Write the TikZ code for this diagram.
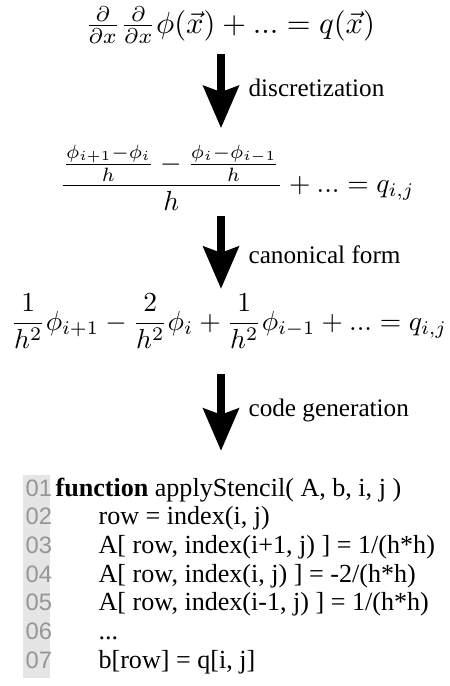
\documentclass[tikz,border=0pt]{standalone}
\usepackage{fontspec}
\usepackage{amsmath}
\usepackage{xcolor}
\usepackage{tikz}
\usetikzlibrary{arrows.meta, positioning, calc}
\newfontfamily\codefont{Liberation Serif}
\newfontfamily\numfont{Liberation Sans}
\definecolor{numGray}{RGB}{150,150,150}
\definecolor{stripGray}{RGB}{229,229,229}

\begin{document}
\begin{tikzpicture}[
      x=0.345pt, y=0.345pt,
      eq/.style={inner sep=0pt, scale=0.95},
      lbl/.style={anchor=west, inner sep=0pt, font=\codefont\fontsize{8.7}{10}\selectfont},
      code/.style={anchor=base west, inner sep=0pt, font=\codefont\fontsize{9}{10}\selectfont},
      lnum/.style={anchor=base west, inner sep=0pt, text=numGray, font=\numfont\fontsize{8.2}{10}\selectfont},
      bigarr/.style={-{Stealth[length=14.5pt, width=12pt, inset=2pt]}, line width=3.1pt}
    ]
      \useasboundingbox (0,0) rectangle (449,-686);
      \coordinate (ax) at (221,0);

      % equations
      \node[eq, scale=1.11] (eq1) at (230,-25)
        {$\frac{\partial}{\partial x}\frac{\partial}{\partial x}\phi(\vec{x}) + ... = q(\vec{x})$};
      \node[eq, anchor=base] (eq2) at (237,-192)
        {$\displaystyle \frac{\frac{\phi_{i+1}-\phi_i}{h} - \frac{\phi_i-\phi_{i-1}}{h}}{h} + ... = q_{i,j}$};
      \node[eq, anchor=base] (eq3) at (229,-330)
        {$\displaystyle \frac{1}{h^2}\phi_{i+1} - \frac{2}{h^2}\phi_i + \frac{1}{h^2}\phi_{i-1} + ... = q_{i,j}$};

      % code listing
      \fill[stripGray] (23,-475) rectangle (50,-678);
      \node[lnum] (ln1) at (25,-496)   {01};
      \node[lnum] (ln2) at (25,-524.7) {02};
      \node[lnum] (ln3) at (25,-553.4) {03};
      \node[lnum] (ln4) at (25,-582.1) {04};
      \node[lnum] (ln5) at (25,-610.8) {05};
      \node[lnum] (ln6) at (25,-639.5) {06};
      \node[lnum] (ln7) at (25,-668.2) {07};
      \node[code] (cl1) at (55,-496)   {\textbf{function} applyStencil( A, b, i, j )};
      \node[code] (cl2) at (98,-524.7) {row = index(i, j)};
      \node[code] (cl3) at (98,-553.4) {A[ row, index(i+1, j) ] = 1/(h*h)};
      \node[code] (cl4) at (98,-582.1) {A[ row, index(i, j) ] = -2/(h*h)};
      \node[code] (cl5) at (98,-610.8) {A[ row, index(i-1, j) ] = 1/(h*h)};
      \node[code] (cl6) at (98,-639.5) {...};
      \node[code] (cl7) at (98,-668.2) {b[row] = q[i, j]};

      % steps
      \draw[bigarr, shorten <=3.5pt, shorten >=5.5pt] (eq1.south -| ax) -- (eq2.north -| ax);
      \draw[bigarr, shorten <=1.7pt, shorten >=1.4pt] (eq2.south -| ax) -- (eq3.north -| ax);
      \draw[bigarr, shorten <=8.6pt, shorten >=9pt]   (eq3.south -| ax) -- (cl1.north -| ax);
      \node[lbl] (lab1) at (248,-88)  {discretization};
      \node[lbl] (lab2) at (248,-255) {canonical form};
      \node[lbl] (lab3) at (248,-410) {code generation};
    \end{tikzpicture}
\end{document}
